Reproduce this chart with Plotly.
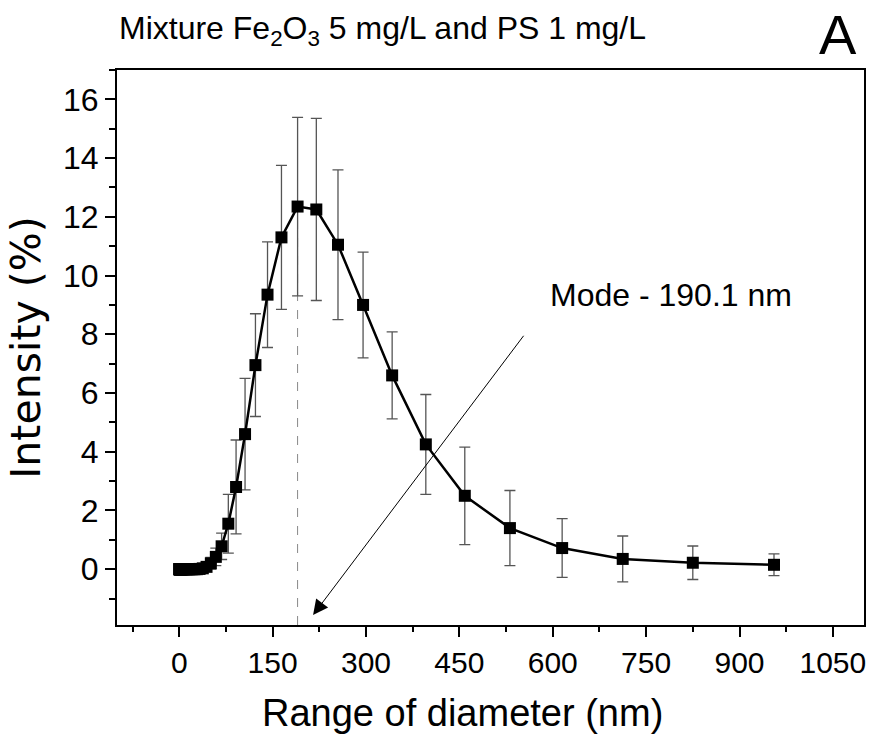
import plotly.graph_objects as go

# Size bins (nm) and intensity (%)
diameter_nm = [0.4, 0.4632, 0.5365, 0.6213, 0.7195, 0.8332, 0.9649, 1.117, 1.294, 1.499,
               1.736, 2.010, 2.328, 2.696, 3.122, 3.615, 4.187, 4.849, 5.615, 6.503,
               7.531, 8.721, 10.10, 11.70, 13.54, 15.69, 18.17, 21.04, 24.36, 28.21,
               32.67, 37.84, 43.82, 50.75, 58.77, 68.06, 78.82, 91.28, 105.7, 122.4,
               141.8, 164.2, 190.1, 220.2, 255.0, 295.3, 342.0, 396.1, 458.7, 531.2,
               615.1, 712.4, 825.0, 955.4]
intensity_pct = [0, 0, 0, 0, 0, 0, 0, 0, 0, 0,
                 0, 0, 0, 0, 0, 0, 0, 0, 0, 0,
                 0, 0, 0, 0, 0, 0, 0, 0, 0, 0,
                 0.01, 0.03, 0.08, 0.2, 0.42, 0.78, 1.55, 2.8, 4.6, 6.95,
                 9.35, 11.3, 12.35, 12.25, 11.05, 9.0, 6.6, 4.25, 2.5, 1.4,
                 0.72, 0.35, 0.22, 0.15]
intensity_sd = [0, 0, 0, 0, 0, 0, 0, 0, 0, 0,
                0, 0, 0, 0, 0, 0, 0, 0, 0, 0,
                0, 0, 0, 0, 0, 0, 0, 0, 0, 0,
                0.02, 0.05, 0.1, 0.2, 0.3, 0.45, 1.0, 1.6, 1.9, 1.75,
                1.8, 2.45, 3.04, 3.1, 2.55, 1.8, 1.48, 1.7, 1.66, 1.28,
                1.0, 0.78, 0.57, 0.37]

mode_nm = 190.1
mode_peak = 12.35
mode_label = "Mode - 190.1 nm"
arrow_tail = (555, 8.0)
arrow_head = (215, -1.56)

x_ticks = [0, 150, 300, 450, 600, 750, 900, 1050]
y_ticks = [0, 2, 4, 6, 8, 10, 12, 14, 16]
x_range = [-100, 1100]
y_range = [-1.9, 17]

SANS = "Liberation Sans, Arial, sans-serif"

fig = go.Figure()

fig.add_trace(go.Scatter(
    x=diameter_nm, y=intensity_pct,
    mode="lines+markers",
    line=dict(color="black", width=2.5),
    marker=dict(symbol="square", size=12, color="black"),
    error_y=dict(type="data", array=intensity_sd, visible=True,
                 color="#555555", thickness=1.3, width=5.5),
    showlegend=False,
))

fig.add_shape(type="line", xref="x", yref="y",
              x0=mode_nm, x1=mode_nm, y0=y_range[0], y1=mode_peak,
              line=dict(color="#888888", width=1, dash="dash"), layer="below")

fig.add_annotation(x=arrow_head[0], y=arrow_head[1], ax=arrow_tail[0], ay=arrow_tail[1],
                   xref="x", yref="y", axref="x", ayref="y",
                   text="", showarrow=True, arrowhead=2, arrowsize=3,
                   arrowwidth=1, arrowcolor="black")

fig.add_annotation(x=592, y=9.34, xref="x", yref="y", text=mode_label,
                   showarrow=False, xanchor="left", yanchor="middle",
                   font=dict(family=SANS, size=32, color="black"))

fig.add_annotation(x=0.0, y=1.0, xref="paper", yref="paper", yshift=40,
                   text="Mixture Fe<sub>2</sub>O<sub>3</sub> 5 mg/L and PS 1 mg/L",
                   showarrow=False, xanchor="left", yanchor="middle",
                   font=dict(family=SANS, size=32, color="black"))

fig.add_annotation(x=1.0, y=1.0, xref="paper", yref="paper", yshift=36, xshift=-5,
                   text="A", showarrow=False, xanchor="right", yanchor="middle",
                   font=dict(family=SANS, size=56, color="black"))

# x-axis title placed as annotation (centred where the reference puts it)
fig.add_annotation(x=462, y=713, xref="paper", yref="paper",
                   text="Range of diameter (nm)", showarrow=False,
                   xanchor="center", yanchor="middle",
                   font=dict(family=SANS, size=38, color="black"))

axis_common = dict(showline=True, linewidth=2, linecolor="black", mirror=True,
                   showgrid=False, zeroline=False, ticks="outside",
                   tickcolor="black", tickwidth=1.5, ticklen=10)

fig.update_xaxes(range=x_range, tickmode="array", tickvals=x_ticks,
                 tickfont=dict(family=SANS, size=30, color="black"),
                 minor=dict(dtick=75, tick0=0, ticks="outside", ticklen=5, tickcolor="black", tickwidth=1.5),
                 **axis_common)
fig.update_yaxes(range=y_range, tickmode="array", tickvals=y_ticks,
                 tickfont=dict(family=SANS, size=32, color="black"),
                 title=dict(text="Intensity (%)",
                            font=dict(family="DejaVu Sans, " + SANS, size=41, color="black"),
                            standoff=10),
                 minor=dict(dtick=1, tick0=0, ticks="outside", ticklen=6, tickcolor="black", tickwidth=1.5),
                 **axis_common)

fig.update_layout(width=877, height=738, margin=dict(l=117, r=13, t=70, b=113),
                  plot_bgcolor="white", paper_bgcolor="white")

# convert paper-pixel placement of x title into paper fractions
plot_w = 877 - 117 - 13
plot_h = 738 - 70 - 113
ann = fig.layout.annotations[-1]
ann.x = (ann.x - 117) / plot_w
ann.y = (738 - 113 - ann.y) / plot_h

fig.write_html("out.html")
